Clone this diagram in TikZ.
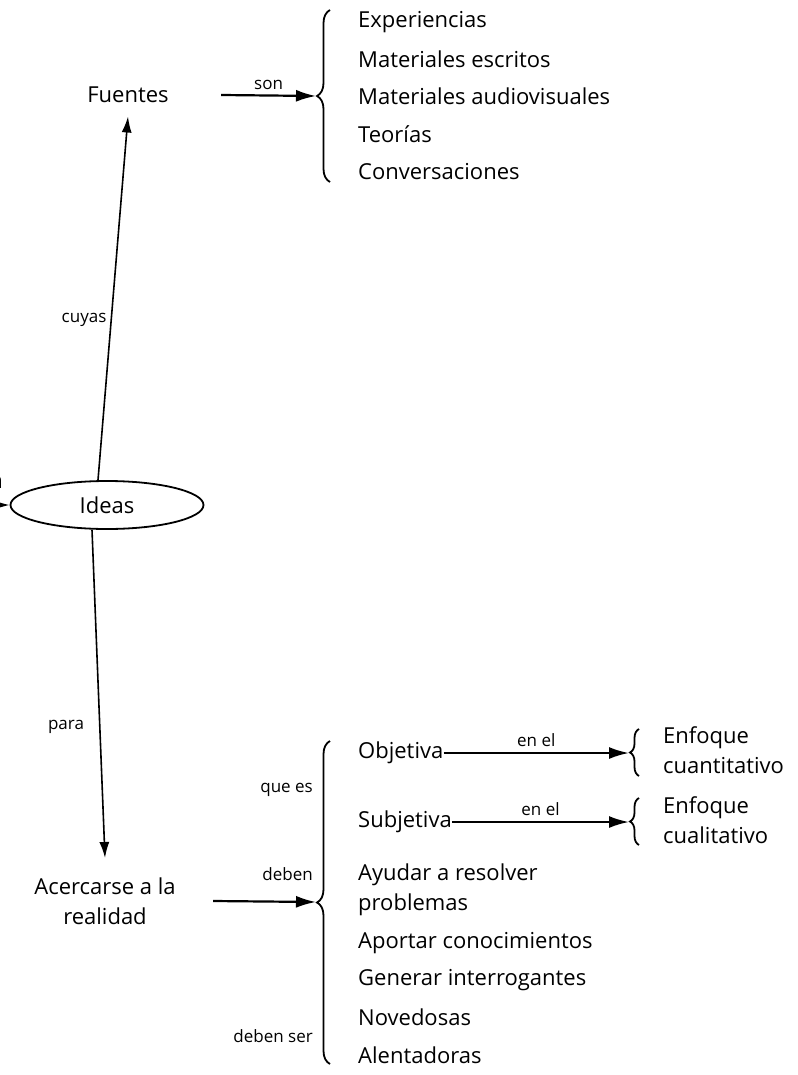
\documentclass[tikz,border=0pt]{standalone}
\usepackage{fontspec}
\setmainfont{Open Sans}
\usetikzlibrary{positioning,arrows.meta,decorations.pathreplacing,shapes.geometric}

\begin{document}
\begin{tikzpicture}
[x=1pt, y=-1pt, font=\fontsize{22}{30}\selectfont,
 item/.style={anchor=west, inner sep=0pt, align=left},
 lbl/.style={font=\fontsize{17}{20}\selectfont, inner sep=1pt},
 arr/.style={-{Latex[length=20pt,width=12pt]}, line width=2.2pt},
 thinarr/.style={-{Latex[length=16pt,width=10pt]}, line width=1.6pt},
 brc/.style={decorate, decoration={brace, amplitude=13pt}, line width=1.8pt},
 smallbrc/.style={decorate, decoration={brace, amplitude=9pt}, line width=1.8pt}]

\useasboundingbox (0,0) rectangle (797,1075);

\node [draw, ellipse, minimum width=193pt, minimum height=48pt, line width=1.8pt] (ideas) at (107,505) {Ideas};
\node (fuentes) at (128,95) {Fuentes};
\node [align=center] (acercarse) at (105,901) {Acercarse a la\\realidad};

% entrada por la izquierda
\coordinate (offleft) at (-20,505);
\node [anchor=east, inner sep=0pt] (ncut) at (3,483) {n};
\draw[thinarr] (offleft) -- (ideas.west);

\draw[thinarr] ([xshift=-9pt]ideas.north) -- ([yshift=-10pt]fuentes.south)
node [lbl, pos=0.44, left=3pt] (cuyas) {cuyas};
\draw[thinarr] ([xshift=-15pt]ideas.south) -- ([yshift=16pt]acercarse.north)
node [lbl, pos=0.6, left=14pt] (para) {para};

% fuentes
\coordinate (fbrace) at (316,96);
\draw[brc] (330,182) -- (330,10);
\draw[arr] ([xshift=49pt]fuentes.east) -- (fbrace)
node [lbl, midway, above=4pt] (son) {son};

\node [item] (exp) at (358,22) {Experiencias};
\node [item] (escritos) at (358,59) {Materiales escritos};
\node [item] (audio) at (358,96) {Materiales audiovisuales};
\node [item] (teorias) at (358,134) {Teorías};
\node [item] (conv) at (358,172) {Conversaciones};

% realidad
\coordinate (abrace) at (316,902);
\draw[brc] (330,1064) -- (330,741);
\draw[arr] ([xshift=34pt]acercarse.east) -- (abrace);

\node [lbl, anchor=east] (quees) at (314,790) {que es};
\node [lbl, anchor=east] (deben) at (314,874) {deben};
\node [lbl, anchor=east] (debenser) at (314,1036) {deben ser};

\node [item] (objetiva) at (358,753) {Objetiva};
\node [item] (subjetiva) at (358,822) {Subjetiva};
\node [item] (ayudar) at (358,890) {Ayudar a resolver\\problemas};
\node [item] (aportar) at (358,943) {Aportar conocimientos};
\node [item] (generar) at (358,980) {Generar interrogantes};
\node [item] (novedosas) at (358,1017) {Novedosas};
\node [item] (alentadoras) at (358,1055) {Alentadoras};

\coordinate (obrace) at (629,753);
\coordinate (sbrace) at (629,822);
\draw[smallbrc] (639,776) -- (639,729);
\draw[smallbrc] (639,845) -- (639,798);
\draw[arr] (objetiva.east) -- (obrace) node [lbl, midway, above=4pt] (enel1) {en el};
\draw[arr] (subjetiva.east) -- (sbrace) node [lbl, midway, above=4pt] (enel2) {en el};

\node [item] (cuanti) at (663,750) {Enfoque\\cuantitativo};
\node [item] (cuali) at (663,820) {Enfoque\\cualitativo};

\end{tikzpicture}
\end{document}
